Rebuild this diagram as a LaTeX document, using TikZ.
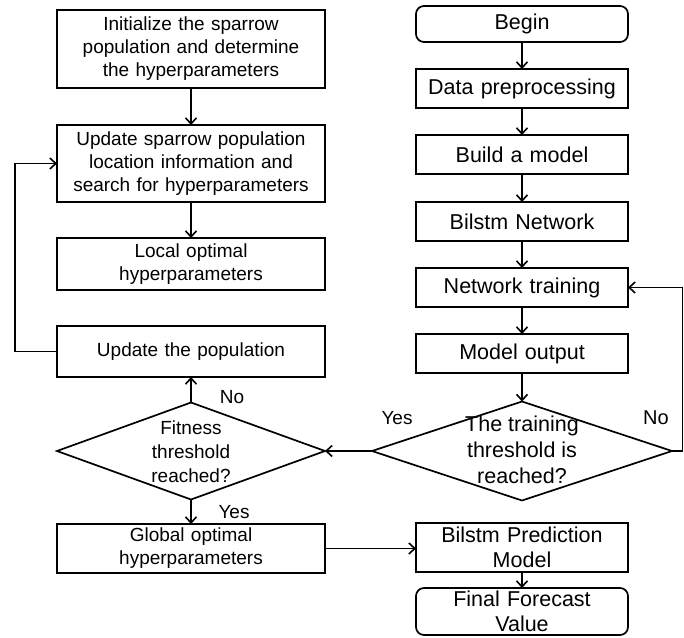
\documentclass[tikz,border=0pt]{standalone}
\usepackage{fontspec}
\setmainfont{Liberation Sans}
\usetikzlibrary{shapes.geometric,arrows.meta}
\begin{document}
\begin{tikzpicture}[x=1pt,y=-1pt,
  every node/.style={inner sep=0pt,outer sep=0pt},
  lbox/.style={draw,line width=1.7pt,minimum width=268pt,align=center,text width=262pt,font=\fontsize{19}{23}\selectfont},
  rbox/.style={draw,line width=1.7pt,minimum width=212pt,align=center,text width=208pt,font=\fontsize{21.5}{25}\selectfont},
  rrbox/.style={rbox,rounded corners=8pt},
  dia/.style={draw,diamond,line width=1.7pt},
  ltxt/.style={align=center,font=\fontsize{19}{24}\selectfont},
  rtxt/.style={align=center,font=\fontsize{21.5}{26}\selectfont},
  arr/.style={line width=1.6pt,-{Straight Barb[length=6pt,width=11pt,line width=1.6pt]}},
  ln/.style={line width=1.6pt}
]
\useasboundingbox (0,0) rectangle (684,637);
% left column
\node[lbox,minimum height=78pt] (b1) at (191,49) {Initialize the sparrow\\population and determine\\the hyperparameters};
\node[lbox,minimum height=77pt] (b2) at (191,163.5) {Update sparrow population\\location information and\\search for hyperparameters};
\node[lbox,minimum height=52pt] (b3) at (191,264) {Local optimal\\hyperparameters};
\node[lbox,minimum height=51pt] (b4) at (191,351.5) {Update the population};
\node[dia,minimum width=268pt,minimum height=97pt] (dl) at (191,451) {};
\node[ltxt] (dlt) at (191,452) {Fitness\\threshold\\reached?};
\node[lbox,minimum height=49pt] (b5) at (191,548.5) {Global optimal\\hyperparameters};
% right column
\node[rrbox,minimum height=36pt] (r1) at (522,24) {Begin};
\node[rbox,minimum height=39pt] (r2) at (522,88.5) {Data preprocessing};
\node[rbox,minimum height=39pt] (r3) at (522,154.5) {Build a model};
\node[rbox,minimum height=39pt] (r4) at (522,221.5) {Bilstm Network};
\node[rbox,minimum height=39pt] (r5) at (522,287.5) {Network training};
\node[rbox,minimum height=39pt] (r6) at (522,353.5) {Model output};
\node[dia,minimum width=300pt,minimum height=99pt] (dr) at (522,451) {};
\node[rtxt] (drt) at (522,450) {The training\\threshold is\\reached?};
\node[rbox,minimum height=49pt] (r7) at (522,547.5) {Bilstm Prediction\\Model};
\node[rrbox,minimum height=47pt] (r8) at (522,611.5) {Final Forecast\\Value};
% labels
\node[font=\fontsize{19}{23}\selectfont] (lno) at (232,397) {No};
\node[font=\fontsize{19}{23}\selectfont] (lyes) at (234,512) {Yes};
\node[font=\fontsize{19}{23}\selectfont] (ryes) at (397,418) {Yes};
\node[font=\fontsize{20}{23}\selectfont] (rno) at (656,418) {No};
\coordinate (fl1) at (15,351.5);
\coordinate (fl2) at (15,163.5);
\coordinate (fr1) at (682.5,451);
\coordinate (fr2) at (682.5,287.5);
% connectors
\draw[arr] (b1) -- (b2);
\draw[arr] (b2) -- (b3);
\draw[arr] (b4.west) -- (fl1) -- (fl2) -- (b2.west);
\draw[arr] (dl.north) -- (b4.south);
\draw[arr] (dl.south) -- (b5.north);
\draw[arr] (r1) -- (r2);
\draw[arr] (r2) -- (r3);
\draw[arr] (r3) -- (r4);
\draw[arr] (r4) -- (r5);
\draw[arr] (r5) -- (r6);
\draw[arr] (r6.south) -- (dr.north);
\draw[arr] (dr.west) -- (dl.east);
\draw[arr] (dr.east) -- (fr1) -- (fr2) -- (r5.east);
\draw[arr] (b5.east) -- (b5.east -| r7.west);
\draw[arr] (r7) -- (r8);
\end{tikzpicture}
\end{document}
